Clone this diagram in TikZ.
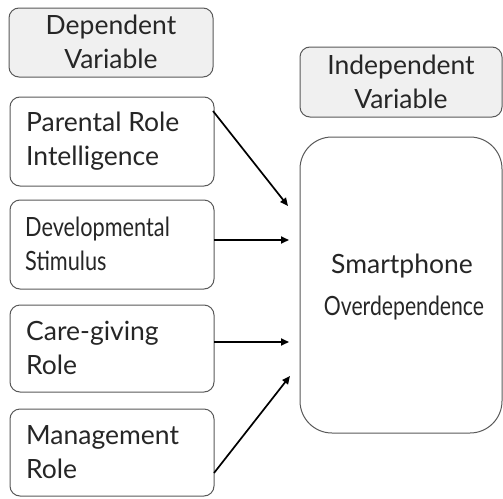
\documentclass[tikz,border=0pt]{standalone}
\usepackage{fontspec}
\setmainfont{Lato}
\usetikzlibrary{arrows.meta}
\begin{document}
\begin{tikzpicture}[x=1pt,y=-1pt,
  box/.style={draw=black!65,line width=1pt,rounded corners=10pt,fill=white},
  hdr/.style={draw=black!65,line width=1pt,rounded corners=10pt,fill=black!6},
  txt/.style={font=\fontsize{26.5}{33.5}\selectfont,text=black!85,align=left,anchor=west,inner sep=0pt},
  ctxt/.style={font=\fontsize{26.5}{33.5}\selectfont,text=black!85,align=center,inner sep=0pt},
  arr/.style={-{Triangle[length=8pt,width=7pt]},line width=1.7pt,black}]
\useasboundingbox (0,0) rectangle (503,498);
\draw[hdr] (9,8) rectangle (213,77);
\node[ctxt] (dep) at (111,42) {Dependent\\Variable};
\draw[hdr] (300,47) rectangle (502,117);
\node[ctxt] (ind) at (401,82) {Independent\\Variable};
\draw[box] (10,97) rectangle (214,186);
\node[txt] (p) at (26,141) {Parental Role\\Intelligence};
\draw[box] (10,200) rectangle (214,289);
\node[txt] (d) at (25,244) {\scalebox{0.82}[1]{Developmental}\\\scalebox{0.82}[1]{Stimulus}};
\draw[box] (10,305) rectangle (214,392);
\node[txt] (c) at (26,348) {Care-giving\\Role};
\draw[box] (10,409) rectangle (214,496);
\node[txt] (m) at (26,452) {Management\\Role};
\draw[box,rounded corners=32pt] (300,137) rectangle (502,433);
\node[ctxt] (s) at (402,266) {Smartphone};
\node[ctxt] (o) at (404,308) {\scalebox{0.8}[1]{Overdependence}};
\coordinate (p0) at (213,111); \coordinate (p1) at (288,206);
\coordinate (d0) at (214,240); \coordinate (d1) at (289,240);
\coordinate (c0) at (214,342); \coordinate (c1) at (289,342);
\coordinate (m0) at (214,473); \coordinate (m1) at (290,376);
\draw[arr] (p0) -- (p1);
\draw[arr] (d0) -- (d1);
\draw[arr] (c0) -- (c1);
\draw[arr] (m0) -- (m1);
\end{tikzpicture}
\end{document}
